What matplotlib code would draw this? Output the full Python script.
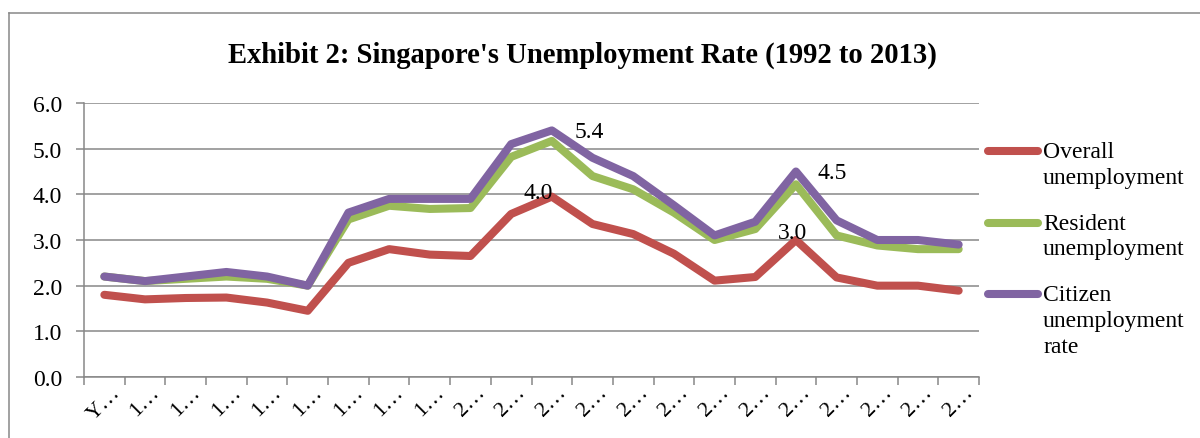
import numpy as np
import matplotlib.pyplot as plt
from matplotlib.lines import Line2D


def load_rates():
    years = list(range(1992, 2014))
    # category names as they show on the axis (cut off by the chart)
    categories = ["Y…"] + ["1…"] * 8 + ["2…"] * 13

    rates = {
        "Overall\nunemployment": [1.8, 1.7, 1.73, 1.74, 1.63, 1.45, 2.5, 2.8, 2.68, 2.65, 3.57,
                                  3.95, 3.35, 3.13, 2.7, 2.11, 2.19, 3.0, 2.18, 2.0, 2.0, 1.89],
        "Resident\nunemployment": [2.2, 2.1, 2.15, 2.2, 2.15, 2.0, 3.45, 3.75, 3.68, 3.7, 4.82,
                                   5.17, 4.4, 4.11, 3.6, 3.0, 3.24, 4.22, 3.1, 2.88, 2.8, 2.8],
        "Citizen\nunemployment\nrate": [2.2, 2.1, 2.2, 2.3, 2.2, 2.0, 3.6, 3.9, 3.9, 3.9, 5.1,
                                        5.4, 4.8, 4.4, 3.76, 3.1, 3.4, 4.5, 3.43, 3.0, 3.0, 2.9],
    }
    colors = ["#C0504D", "#9BBB59", "#8064A2"]

    return years, categories, rates, colors


years, categories, rates, colors = load_rates()


def visualise_rates(categories, rates, colors):
    print("start visualising...")
    plt.rcParams["font.family"] = ["Liberation Serif", "DejaVu Serif"]
    fig = plt.figure(figsize=(12, 4.39), dpi=100)
    W, H = 1200.0, 439.0
    grey = "#878787"

    ax = plt.axes([84 / W, 61 / H, 895 / W, 274 / H])
    x = np.arange(len(categories))

    names = list(rates.keys())
    for name, c in zip(names, colors):
        plt.plot(x, rates[name], color=c, lw=5.8, solid_capstyle="round", solid_joinstyle="round")

    # data labels: (series, point, text, dx, dy, ha, va)
    marks = [(0, 11, "4.0", -14, -1, "center", "baseline"),
             (2, 11, "5.4", 23, -1, "left", "center"),
             (2, 17, "4.5", 22, -1, "left", "center"),
             (0, 17, "3.0", -3, 2, "center", "baseline")]
    for s, i, txt, dx, dy, ha, va in marks:
        plt.annotate(txt, xy=(i, rates[names[s]][i]), xytext=(dx, dy), textcoords="offset pixels",
                     ha=ha, va=va, fontsize=17)

    plt.xlim(-0.5, len(categories) - 0.5)
    plt.ylim(0, 6)
    plt.yticks(np.arange(0, 7), ["%.1f" % v for v in range(7)], fontsize=17)
    plt.xticks(x, categories, rotation=45, ha="center", va="top", fontsize=16)
    ax.set_xticks(np.arange(-0.5, len(categories)), minor=True)
    ax.tick_params(axis="x", which="major", length=0, pad=4)
    ax.tick_params(axis="x", which="minor", length=5.5, width=1.1, color=grey)
    ax.tick_params(axis="y", length=5.8, width=1.1, color=grey, pad=10)
    ax.yaxis.grid(True, color=grey, lw=1.1)
    ax.set_axisbelow(True)
    for side in ["top", "right"]:
        ax.spines[side].set_visible(False)
    for side in ["left", "bottom"]:
        ax.spines[side].set_color(grey)
        ax.spines[side].set_linewidth(1.1)

    # legend drawn by hand so the key lines sit on the first text line
    for k, (name, c) in enumerate(zip(names, colors)):
        y = 152 + 71.6 * k
        fig.add_artist(Line2D([988 / W, 1038 / W], [1 - y / H] * 2, color=c, lw=5.8, solid_capstyle="round"))
        fig.text(1043 / W, 1 - (y - 10) / H, name, fontsize=17, va="top", linespacing=1.3)

    fig.text(582 / W, 1 - 63 / H, "Exhibit 2: Singapore's Unemployment Rate (1992 to 2013)",
             fontsize=20.6, fontweight="bold", ha="center", va="baseline")

    # chart area border
    fig.add_artist(Line2D([9 / W, 9 / W], [0, 1 - 14 / H], color="#888888", lw=1.1))
    fig.add_artist(Line2D([9 / W, 1], [1 - 14 / H] * 2, color="#888888", lw=1.1))

    print("outputing...")

    plt.savefig("out.png", dpi=100)


visualise_rates(categories, rates, colors)
